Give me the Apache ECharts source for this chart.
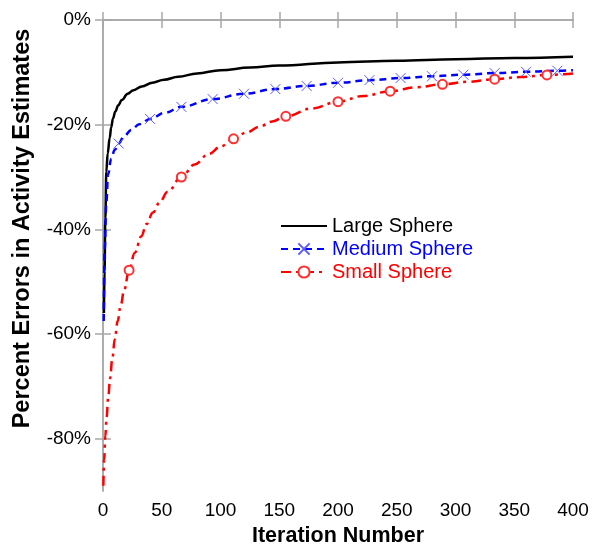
<!DOCTYPE html>
<html>
<head>
<meta charset="utf-8">
<script src="https://cdn.jsdelivr.net/npm/echarts@6/dist/echarts.min.js"></script>
<style>
  html, body { margin: 0; padding: 0; background: #fff; }
  #chart { width: 592px; height: 545px; }
</style>
</head>
<body>
<div id="chart"></div>
<script>
  // curve points (iteration, percent error)
  var largeX = [0.8, 1.3, 2, 2.8, 4, 5.7, 7, 8.5, 10.5, 13, 16, 21, 26, 33, 42, 52, 64, 80, 100, 125, 150, 200, 250, 300, 350, 400];
  var largeY = [-56, -48, -38, -29, -25.5, -22.5, -20.5, -18.8, -17.5, -16.3, -15.3, -14.1, -13.4, -12.7, -12.0, -11.4, -10.85, -10.2, -9.6, -9.1, -8.7, -8.1, -7.8, -7.5, -7.25, -7.0];

  var mediumX = [0.6, 1.4, 2.8, 4.3, 7, 10, 18, 24, 31, 53];
  var mediumY = [-57.5, -44, -35, -29.5, -26.5, -24.8, -22.2, -21, -19.9, -17.7];
  var mediumMarkX = [13.3, 40, 66.7, 93.3, 120, 146.7, 173.3, 200, 226.7, 253.3, 280, 306.7, 333.3, 360, 386.7];
  var mediumMarkY = [-23.6, -18.9, -16.6, -15.1, -14.1, -13.2, -12.6, -12.0, -11.5, -11.1, -10.75, -10.45, -10.15, -9.9, -9.7];
  var mediumEndX = [400];
  var mediumEndY = [-9.6];

  var smallX = [0.3, 1, 2, 3, 4.5, 6, 8, 10, 12.5, 15, 18, 27, 32.6, 37, 42.5, 48, 55, 78, 90, 100, 122, 133, 144, 178, 222, 267, 311, 356, 400];
  var smallY = [-89, -84, -79.5, -76, -72, -68.5, -64.5, -61, -57.5, -54.6, -51.6, -44.5, -41.3, -39, -36.8, -34.9, -32.8, -27.6, -25.6, -24.2, -21.5, -20.4, -19.4, -16.9, -14.5, -12.85, -11.8, -10.9, -10.2];
  var smallMarkX = [22.2, 66.7, 111.1, 155.6, 200, 244.4, 288.9, 333.3, 377.8];
  var smallMarkY = [-47.8, -30, -22.7, -18.4, -15.6, -13.6, -12.3, -11.3, -10.5];

  var yTicks = [-80, -60, -40, -20, 0];

  // merge plain curve points with marker points, markers keep their symbol
  function buildData(cx, cy, mx, my) {
    var pts = [];
    for (var i = 0; i < cx.length; i++) pts.push({ value: [cx[i], cy[i]], symbol: 'none' });
    for (var j = 0; j < (mx || []).length; j++) pts.push({ value: [mx[j], my[j]] });
    pts.sort(function (a, b) { return a.value[0] - b.value[0]; });
    return pts;
  }

  var chart = echarts.init(document.getElementById('chart'));
  var font = 'Liberation Sans, Arial';
  var frame = { lineStyle: { color: '#a8a8a8', width: 1.5 } };
  var tick = { inside: true, length: 8, lineStyle: { color: '#a8a8a8', width: 1.5 } };

  chart.setOption({
    animation: false,
    grid: { left: 103, right: 19, top: 20, bottom: 54, containLabel: false, outerBoundsMode: 'none' },
    legend: {
      orient: 'vertical',
      left: 275,
      top: 211,
      itemWidth: 46,
      itemHeight: 14,
      itemGap: 3,
      textStyle: { fontFamily: font, fontSize: 20 },
      data: [
        { name: 'Large Sphere', itemStyle: { opacity: 0 }, textStyle: { color: '#000' } },
        { name: 'Medium Sphere', textStyle: { color: '#0000ff' } },
        { name: 'Small Sphere', textStyle: { color: '#ff0000' } }
      ]
    },
    xAxis: [{
      type: 'value', min: 0, max: 400, interval: 50,
      axisLine: frame, axisTick: tick, splitLine: { show: false },
      axisLabel: { color: '#000', fontFamily: font, fontSize: 19, margin: 10 },
      name: 'Iteration Number', nameLocation: 'middle', nameGap: 32,
      nameTextStyle: { color: '#000', fontFamily: font, fontSize: 21.5, fontWeight: 'bold' }
    }, {
      type: 'value', position: 'top', min: 0, max: 400, interval: 50,
      axisLine: frame, axisTick: tick, splitLine: { show: false }, axisLabel: { show: false }
    }],
    yAxis: [{
      type: 'value', min: -90, max: 0,
      axisLine: frame,
      axisTick: Object.assign({ customValues: yTicks }, tick),
      splitLine: { show: false },
      axisLabel: {
        customValues: yTicks,
        formatter: function (v) { return v + '%'; },
        color: '#000', fontFamily: font, fontSize: 19, margin: 12
      },
      name: 'Percent Errors in Activity Estimates', nameLocation: 'middle', nameGap: 68,
      nameTextStyle: { color: '#000', fontFamily: font, fontSize: 23.5, fontWeight: 'bold', padding: [0, 0, 0, 54] }
    }, {
      type: 'value', position: 'right', min: -90, max: 0,
      axisLine: frame,
      axisTick: Object.assign({ customValues: yTicks }, tick),
      splitLine: { show: false }, axisLabel: { show: false }
    }],
    series: [
      {
        name: 'Large Sphere', type: 'line', symbol: 'none',
        smooth: 0.4, smoothMonotone: 'x',
        lineStyle: { color: '#000', width: 2.5 },
        itemStyle: { color: '#000' },
        data: buildData(largeX, largeY)
      },
      {
        name: 'Medium Sphere', type: 'line',
        symbol: 'path://M0 0L10 10M10 0L0 10', symbolSize: 10,
        smooth: 0.4, smoothMonotone: 'x',
        lineStyle: { color: '#0000ff', width: 2.5, type: [7, 5] },
        itemStyle: { color: '#0000ff', borderColor: '#5a5aff', borderWidth: 1 },
        emphasis: { disabled: true },
        data: buildData(mediumX.concat(mediumEndX), mediumY.concat(mediumEndY), mediumMarkX, mediumMarkY)
      },
      {
        name: 'Small Sphere', type: 'line',
        symbol: 'emptyCircle', symbolSize: 9,
        smooth: 0.4, smoothMonotone: 'x',
        lineStyle: { color: '#ff0000', width: 2.5, type: [10, 5, 3, 5] },
        itemStyle: { color: '#ff3030', borderWidth: 1 },
        emphasis: { disabled: true },
        data: buildData(smallX, smallY, smallMarkX, smallMarkY)
      }
    ]
  });
</script>
</body>
</html>
